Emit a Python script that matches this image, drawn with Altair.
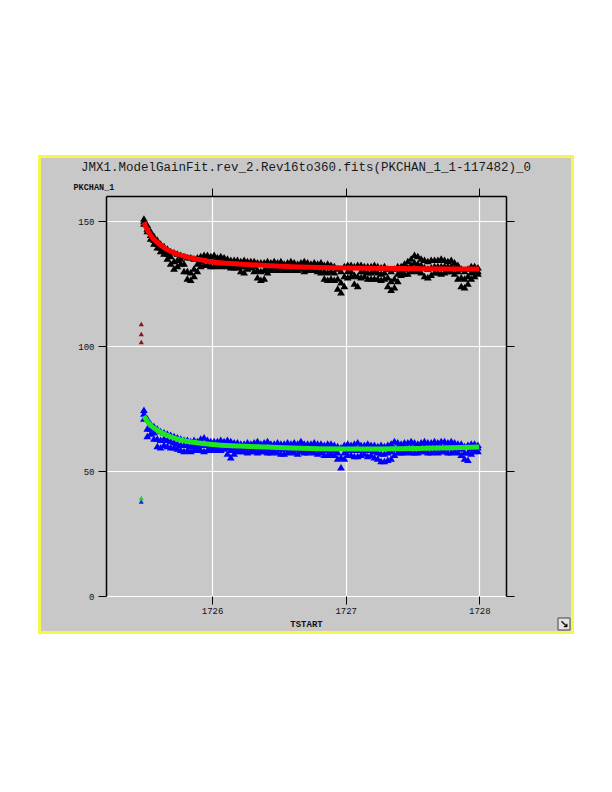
import altair as alt
import pandas as pd

# ---------------- data ----------------
t_grid = [round(1725.49 + 0.025 * i, 3) for i in range(101)]

black_hi = [151, 148.5, 146, 144, 142.5, 141, 140, 139, 138, 137.5,
            137, 136.5, 136, 135.5, 135.5, 135, 135.5, 136, 136.5, 136.5,
            136, 136.5, 135.5, 136, 135.5, 135, 134.5, 134.5, 134.5, 134,
            134.5, 134, 134, 134, 133.5, 133.5, 133.5, 134, 133.5, 134,
            133.5, 134, 133, 133.5, 134, 133.5, 133, 133.5, 134, 133.5,
            133, 133.5, 133, 133.5, 132.5, 133, 132.5, 132, 131, 130,
            132, 132.5, 132.5, 132, 132.5, 132.5, 132, 132, 132, 132.5,
            132, 131.5, 132, 131, 130, 131, 132, 132, 133, 134,
            135, 136.5, 136, 135, 134.5, 134, 134.5, 134.5, 134.5, 135,
            134.5, 134, 134.5, 133.5, 132.5, 131, 130, 131, 132, 132,
            131.5]
black_mid = [150, 147, 144.5, 142.5, 141, 139.5, 138.5, 137, 136, 134,
             134.5, 135, 133, 130, 129.5, 131, 133, 134, 134.5, 134.5,
             134, 134, 134, 134, 134, 133.5, 133, 133, 133, 132,
             132, 132.5, 133, 132, 130.5, 130, 130.5, 131.5, 132, 132.5,
             132, 132.5, 132, 132, 132.5, 132, 131.5, 132, 132, 132,
             132, 132, 131.5, 131.5, 130, 129.5, 130, 129.5, 127, 125.5,
             128, 130, 130, 128.5, 128, 130, 130, 129.5, 129.5, 130,
             129.5, 129, 129.5, 127.5, 126, 127, 129, 130, 131, 131.5,
             132.5, 133.5, 133, 132.5, 131.5, 131, 131.5, 132, 132, 132,
             132, 132, 132, 131.5, 130, 127.5, 127, 128, 129.5, 130,
             130]
black_lo = [149, 146, 143, 141, 139.5, 138, 137, 135, 133, 131,
            132, 133, 130, 127, 126.5, 128, 130, 132, 132.5, 132.5,
            132, 132, 132.5, 132, 132.5, 132, 131.5, 131.5, 131.5, 130,
            129.5, 131, 131.5, 130, 127.5, 126.5, 127, 129.5, 130.5, 131,
            130.5, 131, 130.5, 130.5, 131, 130.5, 130.5, 131, 130, 130.5,
            131, 130.5, 130, 129.5, 127, 126.5, 127, 126.5, 123, 121.5,
            124, 127.5, 128, 125, 124, 127.5, 128, 127, 127, 127,
            127, 126.5, 127, 124, 122.5, 123.5, 126, 128.5, 129, 129,
            130, 130.5, 130, 129.5, 128, 127.5, 128.5, 129.5, 129.5, 129,
            129.5, 130, 130, 129, 127, 124, 123.5, 125, 127, 128,
            129]

blue_hi = [74.5, 71, 69, 68, 67, 66, 65.5, 65, 64.5, 64,
           63.5, 63, 62.5, 62.5, 62, 62.5, 62, 63, 63.5, 62.5,
           62, 62, 62, 62.5, 62, 62.5, 62, 61.5, 61.5, 61,
           61, 61.5, 61, 61.5, 62, 61, 61.5, 62, 61, 61,
           61.5, 61, 61, 61.5, 61, 61.5, 61, 62, 61, 61,
           61, 61.5, 61, 61, 60.5, 61, 61, 60.5, 60, 59.5,
           60.5, 61, 60.5, 61, 61.5, 60.5, 60.5, 61, 60.5, 60.5,
           60, 60.5, 60, 60.5, 61, 62, 61.5, 61, 61.5, 61.5,
           62, 61.5, 61, 61.5, 62, 61.5, 61.5, 62, 61.5, 62,
           62, 61.5, 62, 61.5, 61, 61, 60, 60.5, 61, 61,
           60.5]
blue_mid = [73, 67, 67, 65.5, 63, 62.5, 63, 62.5, 62, 61.5,
            61, 60.5, 60.5, 60.5, 60, 60.5, 60, 60.5, 60.5, 60.5,
            60, 60.5, 60, 60.5, 60.5, 59.5, 58.5, 59, 59.5, 59.5,
            59.5, 59.5, 59.5, 59.5, 59.5, 59.5, 59.5, 59.5, 59, 59.5,
            59.5, 59, 59, 59.5, 59.5, 59.5, 59, 60, 59, 59,
            59.5, 59.5, 59, 59, 58.5, 58.5, 59, 58.5, 57.5, 55.5,
            57.5, 58.5, 58.5, 58.5, 58.5, 58.5, 58.5, 58.5, 58.5, 58,
            57.5, 57, 57, 57.5, 58, 59, 59.5, 59, 59.5, 59.5,
            59.5, 59.5, 59.5, 59.5, 60, 59.5, 59.5, 60, 59.5, 60,
            60, 59.5, 60, 59.5, 59.5, 59, 57.5, 57.5, 59, 59.5,
            59.5]
blue_lo = [71, 64, 65, 63, 60, 59.5, 60.5, 60, 59.5, 59.5,
           59, 58.5, 58, 58.5, 58, 58.5, 58.5, 58.5, 58, 58.5,
           58.5, 59, 58.5, 58.5, 59, 57, 55.5, 57, 58, 58,
           58, 57.5, 58, 58, 57.5, 58, 58, 57.5, 57.5, 58,
           57.5, 57, 57, 57.5, 58, 57.5, 57, 58, 57.5, 57.5,
           58, 57.5, 57, 57.5, 56.5, 56.5, 57, 56.5, 55, 51.5,
           55, 56.5, 56.5, 56, 56, 56.5, 57, 56, 56.5, 55.5,
           55, 54, 54, 54.5, 55, 56.5, 57.5, 57.5, 57.5, 58,
           57.5, 57.5, 57.5, 58, 58, 57.5, 57.5, 58, 57.5, 58,
           58, 57.5, 57.5, 58, 57.5, 56.5, 55, 54.5, 57, 58,
           58]

fit_t = [1725.49, 1725.52, 1725.55, 1725.6, 1725.65, 1725.7, 1725.75, 1725.8,
         1725.9, 1726.0, 1726.2, 1726.4, 1726.6, 1726.8, 1727.0, 1727.2,
         1727.4, 1727.6, 1727.8, 1728.0]
red_fit = [149.5, 146, 143.5, 141, 139, 137.6, 136.6, 135.8,
           134.6, 133.6, 132.8, 132.2, 131.7, 131.4, 131.2, 131.1,
           131.0, 130.9, 130.85, 130.8]
green_fit = [72, 69.5, 67.8, 66, 64.6, 63.5, 62.6, 62,
             61.2, 60.6, 60, 59.6, 59.2, 58.9, 58.8, 58.8,
             58.9, 59.1, 59.3, 59.6]

outlier_t = [1725.47, 1725.47, 1725.47]
outlier_red = [108.8, 104.8, 101.6]
outlier_green_t = [1725.47]
outlier_green = [39.2]
outlier_blue_t = [1725.47]
outlier_blue = [37.8]

x_ticks = [1726, 1727, 1728]
y_ticks = [0, 50, 100, 150]
title_text = "JMX1.ModelGainFit.rev_2.Rev16to360.fits(PKCHAN_1_1-117482)_0"

# ---------------- tables ----------------
df_black = pd.DataFrame({"t": t_grid * 3, "v": black_hi + black_mid + black_lo})
df_blue = pd.DataFrame({"t": t_grid * 3, "v": blue_hi + blue_mid + blue_lo})
df_red = pd.DataFrame({"t": fit_t, "v": red_fit})
df_green = pd.DataFrame({"t": fit_t, "v": green_fit})
df_out_red = pd.DataFrame({"t": outlier_t, "v": outlier_red})
df_out_green = pd.DataFrame({"t": outlier_green_t, "v": outlier_green})
df_out_blue = pd.DataFrame({"t": outlier_blue_t, "v": outlier_blue})
one = pd.DataFrame({"k": [0]})
df_title = pd.DataFrame({"label": [title_text]})

GREY = "#c8c8c8"
MONO = "Liberation Mono"

xs = alt.Scale(domain=[1725.206, 1728.2], nice=False, zero=False)
ys = alt.Scale(domain=[0, 160], nice=False, zero=False)

grid_x = alt.Axis(values=x_ticks, orient="bottom", grid=True, gridColor="white",
                  gridWidth=1.2, gridOpacity=1, domain=False, ticks=False,
                  labels=False, title="")
grid_y = alt.Axis(values=y_ticks, orient="left", grid=True, gridColor="white",
                  gridWidth=1.2, gridOpacity=1, domain=False, ticks=False,
                  labels=False, title="")
bottom_axis = alt.Axis(values=x_ticks, orient="bottom", grid=False, domain=False,
                       ticks=True, tickColor="black", tickSize=8, tickWidth=1,
                       labelFont=MONO, labelFontSize=9, labelColor="#111111",
                       labelPadding=2, format="d",
                       title="TSTART", titleFont=MONO, titleFontSize=9,
                       titleFontWeight="bold", titleColor="#111111",
                       titleY=27, titleBaseline="middle")
left_axis = alt.Axis(values=y_ticks, orient="left", grid=False, domain=True,
                     domainColor="black", domainWidth=1.5, ticks=True,
                     tickColor="black", tickSize=8, tickWidth=1,
                     labelFont=MONO, labelFontSize=9, labelColor="#111111",
                     labelPadding=4, format="d",
                     title="PKCHAN_1", titleAngle=0, titleX=-33, titleY=-10,
                     titleAlign="left", titleBaseline="middle", titleFont=MONO,
                     titleFontSize=8.5, titleFontWeight="bold", titleColor="#111111")
top_axis = alt.Axis(values=x_ticks, orient="top", grid=False, domain=True,
                    domainColor="black", domainWidth=1.5, ticks=True,
                    tickColor="black", tickSize=8, tickWidth=1, labels=False,
                    title="")
right_axis = alt.Axis(values=y_ticks, orient="right", grid=False, domain=True,
                      domainColor="black", domainWidth=1.5, ticks=True,
                      tickColor="black", tickSize=8, tickWidth=1, labels=False,
                      title="")

# ---------------- page decoration (white outside the yellow panel) ----------------
cover_top = alt.Chart(one).mark_rect(color="white").encode(
    x=alt.value(-98), x2=alt.value(470), y=alt.value(-188), y2=alt.value(-41))
cover_left = alt.Chart(one).mark_rect(color="white").encode(
    x=alt.value(-98), x2=alt.value(-68), y=alt.value(-188), y2=alt.value(440))
border = alt.Chart(one).mark_rect(fillOpacity=0, stroke="#f6f64c", strokeWidth=3).encode(
    x=alt.value(-66.5), x2=alt.value(466.5), y=alt.value(-39.5), y2=alt.value(436.5))
icon_box = alt.Chart(one).mark_rect(color="#e4e4e4", stroke="#444444", strokeWidth=1).encode(
    x=alt.value(452), x2=alt.value(464), y=alt.value(422), y2=alt.value(434))
icon_arrow = alt.Chart(one).mark_text(text="↘", font="DejaVu Sans", fontSize=11,
                                      fontWeight="bold", color="black").encode(
    x=alt.value(458), y=alt.value(428.5))
title_mark = alt.Chart(df_title).mark_text(font=MONO, fontSize=12.5, color="#1a1a1a",
                                           align="center", baseline="middle").encode(
    text="label:N", x=alt.value(200), y=alt.value(-29))

# ---------------- data layers ----------------
tri = dict(shape="triangle-up", filled=True, opacity=1, strokeWidth=0)

black = alt.Chart(df_black).mark_point(size=60, color="black", **tri).encode(
    x=alt.X("t:Q", scale=xs, axis=grid_x),
    y=alt.Y("v:Q", scale=ys, axis=grid_y))
red = alt.Chart(df_red).mark_line(color="#ff0000", strokeWidth=5, interpolate="monotone").encode(
    x=alt.X("t:Q", scale=xs, axis=bottom_axis),
    y=alt.Y("v:Q", scale=ys, axis=left_axis))
blue = alt.Chart(df_blue).mark_point(size=60, color="#0000ff", **tri).encode(
    x=alt.X("t:Q", scale=xs, axis=top_axis),
    y=alt.Y("v:Q", scale=ys, axis=right_axis))
green = alt.Chart(df_green).mark_line(color="#1ee61e", strokeWidth=5, interpolate="monotone").encode(
    x=alt.X("t:Q", scale=xs, axis=None),
    y=alt.Y("v:Q", scale=ys, axis=None))
out_red = alt.Chart(df_out_red).mark_point(size=26, color="#8e1010", **tri).encode(
    x=alt.X("t:Q", scale=xs, axis=None),
    y=alt.Y("v:Q", scale=ys, axis=None))
out_blue = alt.Chart(df_out_blue).mark_point(size=26, color="#1030c8", **tri).encode(
    x=alt.X("t:Q", scale=xs, axis=None),
    y=alt.Y("v:Q", scale=ys, axis=None))
out_green = alt.Chart(df_out_green).mark_point(size=26, color="#22cc44", **tri).encode(
    x=alt.X("t:Q", scale=xs, axis=None),
    y=alt.Y("v:Q", scale=ys, axis=None))

chart = alt.layer(
    cover_top, cover_left, border, icon_box, icon_arrow, title_mark,
    black, red, blue, green, out_red, out_blue, out_green
).resolve_axis(
    x="independent", y="independent"
).properties(
    width=400, height=400,
    background=GREY,
    padding={"left": 98, "top": 188, "right": 68, "bottom": 38},
    autosize=alt.AutoSizeParams(type="none"),
).configure_view(stroke="transparent")

chart.save("out.html", embed_options={"renderer": "svg", "actions": False})
